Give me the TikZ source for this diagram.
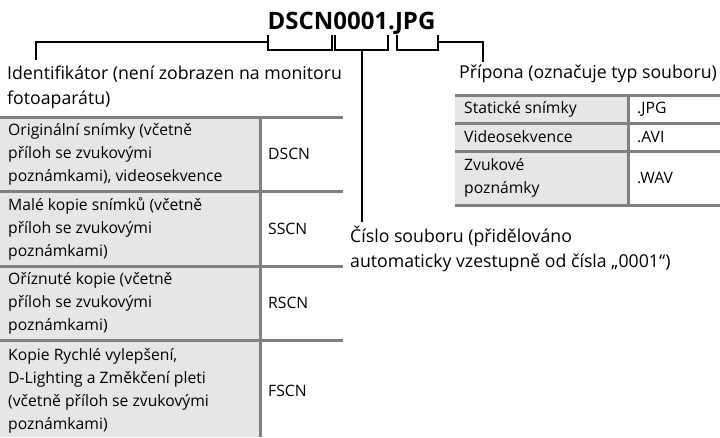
\documentclass[tikz,border=0pt]{standalone}
\usepackage{fontspec}
\setmainfont{Open Sans}
\usepackage{xcolor}
\usetikzlibrary{positioning,calc}
\definecolor{rulegray}{HTML}{808080}
\definecolor{cellgray}{HTML}{E6E6E6}

\begin{document}
\begin{tikzpicture}[x=1pt,y=-1pt,
 txt/.style={inner sep=0pt,align=left,font=\fontsize{17.7}{24.5}\selectfont},
 cell/.style={inner sep=0pt,align=left,anchor=west,font=\fontsize{15.7}{23}\selectfont},
 brk/.style={line width=2pt},
 rul/.style={draw=rulegray,line width=3pt}]
\useasboundingbox (0,0) rectangle (720,437);
\node[anchor=base,inner sep=0pt,font=\bfseries\fontsize{24}{28}\selectfont] (fname) at (351.5,29) {DSCN0001.JPG};

\coordinate (idl) at (268,50); \coordinate (idr) at (332,50);
\coordinate (nol) at (335,50); \coordinate (nor) at (388,50);
\coordinate (exl) at (397,50); \coordinate (exr) at (438,50);
\draw[brk] ($(idl)+(0,-15)$)--(idl)--(idr)--($(idr)+(0,-15)$);
\draw[brk] ($(nol)+(0,-15)$)--(nol)--(nor)--($(nor)+(0,-15)$);
\draw[brk] ($(exl)+(0,-15)$)--(exl)--(exr)--($(exr)+(0,-15)$);

\node[txt,anchor=base west] (idlbl) at (7,104) {Identifikátor (není zobrazen na monitoru\\fotoaparátu)};
\node[txt,anchor=base west] (exlbl) at (459,78) {Přípona (označuje typ souboru)};
\node[txt,anchor=base west] (nolbl) at (350,267) {Číslo souboru (přidělováno\\automaticky vzestupně od čísla „0001“)};
\coordinate (idtip) at (36,60);
\coordinate (extip) at (483,62);
\coordinate (notip) at ($(nol)!0.5!(nor)+(0,172)$);
\draw[brk] ($(idl)+(0,-8)$) -| (idtip);
\draw[brk] ($(exr)+(0,-8)$) -| (extip);
\draw[brk] ($(nol)!0.5!(nor)$) -- (notip);

\fill[cellgray] (0,117) rectangle (260,437);
\draw[rul] (0,117)--(343,117); \draw[rul] (0,191)--(343,191);
\draw[rul] (0,266)--(343,266); \draw[rul] (0,340)--(343,340);
\draw[rul] (260,117)--(260,437);
\node[cell] (r1) at (8,154) {Originální snímky (včetně\\příloh se zvukovými\\poznámkami), videosekvence};
\node[cell] (r2) at (8,228.5) {Malé kopie snímků (včetně\\příloh se zvukovými\\poznámkami)};
\node[cell] (r3) at (8,303) {Oříznuté kopie (včetně\\příloh se zvukovými\\poznámkami)};
\node[cell] (r4) at (8,391) {Kopie Rychlé vylepšení,\\D-Lighting a Změkčení pleti\\(včetně příloh se zvukovými\\poznámkami)};
\node[cell] (c1) at (268,154) {DSCN};
\node[cell] (c2) at (268,228.5) {SSCN};
\node[cell] (c3) at (268,303) {RSCN};
\node[cell] (c4) at (268,391) {FSCN};

\fill[cellgray] (455,95) rectangle (628,205);
\draw[rul] (455,95)--(720,95); \draw[rul] (455,123)--(720,123);
\draw[rul] (455,151)--(720,151); \draw[rul] (455,205)--(720,205);
\draw[rul] (628,95)--(628,205);
\node[cell] (t1) at (464,109) {Statické snímky};
\node[cell] (t2) at (464,137) {Videosekvence};
\node[cell] (t3) at (464,178) {Zvukové\\poznámky};
\node[cell] (e1) at (637,109) {.JPG};
\node[cell] (e2) at (637,137) {.AVI};
\node[cell] (e3) at (637,178) {.WAV};
\end{tikzpicture}
\end{document}
